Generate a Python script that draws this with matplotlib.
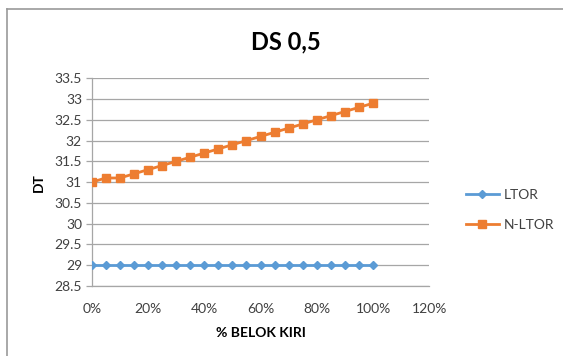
import matplotlib
matplotlib.use("Agg")
import matplotlib.pyplot as plt
from matplotlib.lines import Line2D
from matplotlib.ticker import FuncFormatter

# % belok kiri (left-turn share) and delay time for both scenarios
belok_kiri = [0, 5, 10, 15, 20, 25, 30, 35, 40, 45, 50, 55, 60, 65, 70, 75, 80, 85, 90, 95, 100]
ltor = [29.0] * 21
n_ltor = [31.0, 31.1, 31.1, 31.2, 31.3, 31.4, 31.5, 31.6, 31.7, 31.8, 31.9,
          32.0, 32.1, 32.2, 32.3, 32.4, 32.5, 32.6, 32.7, 32.8, 32.9]
x_ticks = [0, 20, 40, 60, 80, 100, 120]
y_ticks = [28.5, 29, 29.5, 30, 30.5, 31, 31.5, 32, 32.5, 33, 33.5]

plt.rcParams["font.family"] = ["Lato", "DejaVu Sans"]

W, H = 563, 356
fig = plt.figure(figsize=(W / 100, H / 100), dpi=100)
ax = fig.add_axes([91.7 / W, 1 - 286 / H, (429.3 - 91.7) / W, (286 - 78.3) / H])

blue = "#5B9BD5"
orange = "#ED7D31"
grid = "#A6A6A6"

ax.plot(belok_kiri, ltor, color=blue, lw=2.0, marker="D", ms=4.5,
        mec=blue, mfc=blue, label="LTOR", zorder=3)
ax.plot(belok_kiri, n_ltor, color=orange, lw=2.0, marker="s", ms=5.5,
        mec=orange, mfc=orange, label="N-LTOR", zorder=3)

ax.set_xlim(0, 120)
ax.set_ylim(28.5, 33.5)
ax.set_xticks(x_ticks)
ax.set_yticks(y_ticks)
ax.xaxis.set_major_formatter(FuncFormatter(lambda v, p: f"{int(v)}%"))
ax.yaxis.set_major_formatter(FuncFormatter(lambda v, p: f"{v:g}"))

ax.grid(axis="y", color=grid, lw=0.9)
ax.set_axisbelow(True)
for side in ("top", "right"):
    ax.spines[side].set_visible(False)
for side in ("left", "bottom"):
    ax.spines[side].set_color(grid)
    ax.spines[side].set_linewidth(0.9)

ax.tick_params(axis="y", length=4, color=grid, width=0.9, labelsize=10,
               labelcolor="#404040", pad=3)
ax.tick_params(axis="x", length=0, labelsize=10, labelcolor="#404040", pad=12)

ax.set_xlabel("% BELOK KIRI", fontsize=10, fontweight="bold", labelpad=9)
ax.set_ylabel("DT", fontsize=10, fontweight="bold", labelpad=7)

fig.text(286 / W, 1 - 42 / H, "DS 0,5", ha="center", va="center",
         fontsize=17, fontweight="bold")

handles = [
    Line2D([0], [0], color=blue, lw=2.0, marker="D", ms=4.5, mec=blue, mfc=blue),
    Line2D([0], [0], color=orange, lw=2.0, marker="s", ms=5.5, mec=orange, mfc=orange),
]
fig.legend(handles, ["LTOR", "N-LTOR"], loc="center left",
           bbox_to_anchor=(463 / W, 1 - 210 / H), frameon=False,
           fontsize=10, handlelength=2.4, labelspacing=1.3, handletextpad=0.3,
           borderaxespad=0, borderpad=0.2, labelcolor="#404040")

# chart frame (top and left edges)
fig.add_artist(Line2D([7 / W, 1], [1 - 9 / H, 1 - 9 / H], color="#999999", lw=1.2,
                      transform=fig.transFigure))
fig.add_artist(Line2D([7 / W, 7 / W], [0, 1 - 9 / H], color="#999999", lw=1.2,
                      transform=fig.transFigure))

fig.savefig("out.png", dpi=100)
